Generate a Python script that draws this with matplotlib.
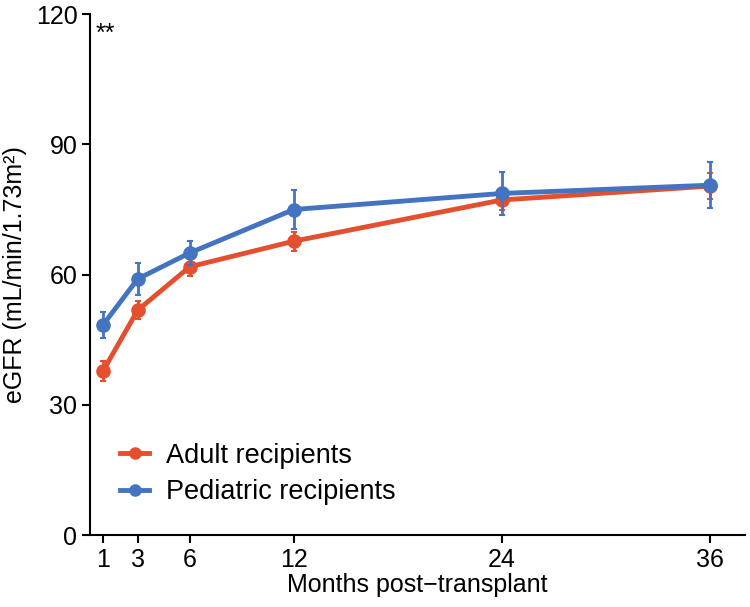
import matplotlib
matplotlib.use("Agg")
import matplotlib.pyplot as plt
from matplotlib.lines import Line2D

plt.rcParams['font.family'] = ['Liberation Sans', 'DejaVu Sans']

months = [1, 3, 6, 12, 24, 36]
adult = [37.8, 51.8, 61.8, 67.7, 77.2, 80.4]
adult_err = [2.3, 2.1, 2.1, 2.2, 2.3, 2.9]
pediatric = [48.4, 59.0, 65.0, 75.0, 78.7, 80.6]
pediatric_err = [2.9, 3.6, 2.8, 4.4, 5.0, 5.3]
series_labels = ["Adult recipients", "Pediatric recipients"]
xticks = [1, 3, 6, 12, 24, 36]
yticks = [0, 30, 60, 90, 120]

red = "#E4502F"
blue = "#4473C1"

fig = plt.figure(figsize=(7.5, 6.07), dpi=100)
ax = fig.add_axes([0.12, 0.1186, 0.873, 0.858])

ax.errorbar(months, adult, yerr=adult_err, color=red, lw=3.5, marker='o', ms=9.5,
            elinewidth=2, capsize=2, capthick=1.5, zorder=3)
ax.errorbar(months, pediatric, yerr=pediatric_err, color=blue, lw=3.5, marker='o', ms=9.5,
            elinewidth=2, capsize=2, capthick=1.5, zorder=4)

ax.set_xlim(0.25, 38)
ax.set_ylim(0, 120)
ax.set_xticks(xticks)
ax.set_yticks(yticks)
ax.tick_params(labelsize=18, width=1.5, length=6, direction='out', pad=3)
for s in ['top', 'right']:
    ax.spines[s].set_visible(False)
for s in ['left', 'bottom']:
    ax.spines[s].set_linewidth(1.5)

ax.set_xlabel("Months post\u2212transplant", fontsize=18, labelpad=1)
ax.set_ylabel("eGFR (mL/min/1.73m\u00b2)", fontsize=18, labelpad=6)

ax.text(0.008, 0.985, "**", transform=ax.transAxes, fontsize=18, va='top', ha='left')

handles = [Line2D([], [], color=red, lw=3.5, marker='o', ms=8),
           Line2D([], [], color=blue, lw=3.5, marker='o', ms=8)]
ax.legend(handles, series_labels, loc='lower left', bbox_to_anchor=(0.008, 0.01), frameon=False,
          fontsize=19.5, handlelength=1.1, handletextpad=0.6, labelspacing=0.4)

fig.savefig("out.png", dpi=100)
